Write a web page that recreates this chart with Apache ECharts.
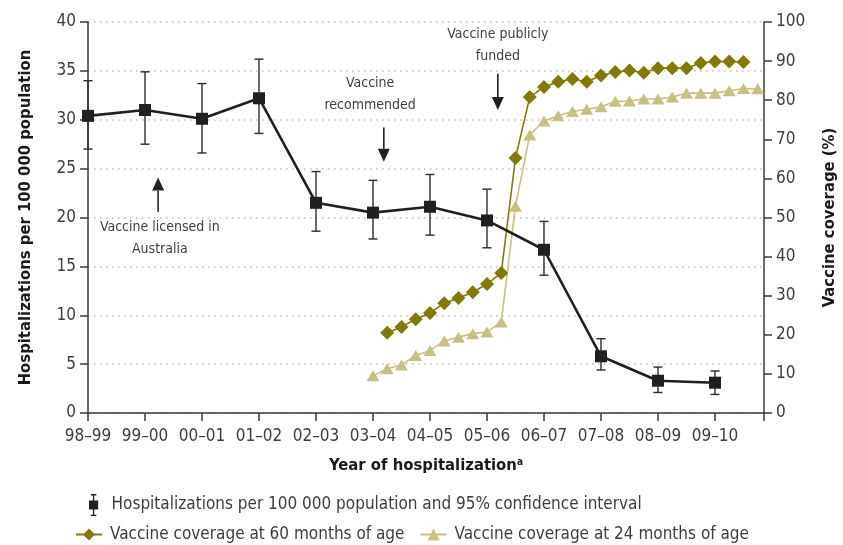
<!DOCTYPE html>
<html>
<head>
<meta charset="utf-8">
<script src="https://cdn.jsdelivr.net/npm/echarts@6/dist/echarts.min.js"></script>
<style>
  html, body { margin: 0; padding: 0; background: #fff; }
  #chart { width: 843px; height: 545px; }
</style>
</head>
<body>
<div id="chart"></div>
<script>
  // years of hospitalization (x positions 0..11)
  var years = ['98–99', '99–00', '00–01', '01–02', '02–03', '03–04', '04–05', '05–06', '06–07', '07–08', '08–09', '09–10'];
  var hospRate = [30.4, 31.0, 30.1, 32.2, 21.5, 20.5, 21.1, 19.7, 16.7, 5.8, 3.3, 3.1];
  var ciLow    = [27.0, 27.5, 26.6, 28.6, 18.6, 17.8, 18.2, 16.9, 14.1, 4.4, 2.1, 1.9];
  var ciHigh   = [34.0, 34.9, 33.7, 36.2, 24.7, 23.8, 24.4, 22.9, 19.6, 7.6, 4.7, 4.3];

  // vaccine coverage, quarterly, position in year-index units
  var cov60Time = [5.25, 5.5, 5.75, 6, 6.25, 6.5, 6.75, 7, 7.25, 7.5, 7.75, 8, 8.25, 8.5, 8.75, 9, 9.25, 9.5, 9.75, 10, 10.25, 10.5, 10.75, 11, 11.25, 11.5];
  var cov60     = [20.5, 22.0, 24.0, 25.6, 28.1, 29.4, 30.9, 33.0, 35.8, 65.2, 80.8, 83.4, 84.7, 85.4, 84.7, 86.3, 87.2, 87.6, 87.0, 88.2, 88.2, 88.2, 89.5, 89.9, 89.9, 89.8];
  var cov24Time = [5, 5.25, 5.5, 5.75, 6, 6.25, 6.5, 6.75, 7, 7.25, 7.5, 7.75, 8, 8.25, 8.5, 8.75, 9, 9.25, 9.5, 9.75, 10, 10.25, 10.5, 10.75, 11, 11.25, 11.5, 11.75];
  var cov24     = [9.5, 11.3, 12.3, 14.7, 16.0, 18.4, 19.4, 20.3, 20.7, 23.3, 52.9, 71.1, 74.7, 76.0, 77.1, 77.7, 78.3, 79.7, 79.8, 80.3, 80.3, 80.8, 81.8, 81.8, 81.8, 82.4, 83.0, 82.9];

  var hospName = 'Hospitalizations per 100 000 population and 95% confidence interval';
  var c60Name = 'Vaccine coverage at 60 months of age';
  var c24Name = 'Vaccine coverage at 24 months of age';

  // annotations: text anchor, arrow tail, arrow tip (x index, left axis value)
  var notes = [
    { text: 'Vaccine licensed in\nAustralia', at: [1.26, 20.1], tail: [1.23, 20.6], tip: [1.23, 24.1] },
    { text: 'Vaccine\nrecommended', at: [4.95, 34.8], tail: [5.19, 29.2], tip: [5.19, 25.7] },
    { text: 'Vaccine publicly\nfunded', at: [7.19, 39.9], tail: [7.19, 34.7], tip: [7.19, 31.0] }
  ];

  var FONT = "'DejaVu Sans Condensed', 'DejaVu Sans', sans-serif";
  var TXT = '#3d3d3d';
  var AXIS = '#3a3a3a';

  var chart = echarts.init(document.getElementById('chart'));

  function pairs(xs, ys) {
    return xs.map(function (x, i) { return [x, ys[i]]; });
  }

  chart.setOption({
    animation: false,
    grid: { left: 88, right: 79, top: 22, bottom: 132, outerBoundsMode: 'none' },
    legend: [
      {
        left: 84, top: 489,
        itemWidth: 10, itemHeight: 22,
        data: [{ name: hospName, icon: 'path://M2,0H8V1.5H5.75V7H10V17H5.75V22.5H8V24H2V22.5H4.25V17H0V7H4.25V1.5H2Z' }],
        textStyle: { fontFamily: FONT, fontSize: 17, color: TXT, padding: [0, 0, 0, 8] }
      },
      {
        left: 70, top: 521,
        itemWidth: 26, itemHeight: 15, itemGap: 15,
        data: [c60Name, c24Name],
        textStyle: { fontFamily: FONT, fontSize: 17, color: TXT, padding: [0, 0, 0, 3] }
      }
    ],
    xAxis: {
      type: 'value', min: 0, max: 11.86, interval: 1,
      name: '{t|Year of hospitalization}{s|a}',
      nameLocation: 'middle', nameGap: 44,
      nameTextStyle: {
        rich: {
          t: { fontFamily: FONT, fontSize: 16.5, fontWeight: 'bold', color: '#1a1a1a' },
          s: { fontFamily: FONT, fontSize: 10, fontWeight: 'bold', color: '#1a1a1a', verticalAlign: 'top' }
        }
      },
      axisLine: { lineStyle: { color: AXIS, width: 1.5 } },
      axisTick: { length: 8, lineStyle: { color: AXIS, width: 1.5 } },
      axisLabel: {
        margin: 15, fontFamily: FONT, fontSize: 17, color: TXT,
        formatter: function (v) { return Number.isInteger(v) && years[v] ? years[v] : ''; }
      },
      splitLine: { show: false }
    },
    yAxis: [
      {
        type: 'value', min: 0, max: 40, interval: 5,
        name: 'Hospitalizations per 100 000 population',
        nameLocation: 'middle', nameGap: 54, nameRotate: 90,
        nameTextStyle: { fontFamily: FONT, fontSize: 16.5, fontWeight: 'bold', color: '#1a1a1a' },
        axisLine: { show: true, lineStyle: { color: AXIS, width: 1.5 } },
        axisTick: { show: true, length: 8, lineStyle: { color: AXIS, width: 1.5 } },
        axisLabel: { margin: 12, fontFamily: FONT, fontSize: 17, color: TXT },
        splitLine: { show: true, lineStyle: { color: '#bdbdbd', width: 1.5, type: [1.5, 4.5] } }
      },
      {
        type: 'value', min: 0, max: 100, interval: 10, position: 'right',
        name: 'Vaccine coverage (%)',
        nameLocation: 'middle', nameGap: 57, nameRotate: 90,
        nameTextStyle: { fontFamily: FONT, fontSize: 16.5, fontWeight: 'bold', color: '#1a1a1a' },
        axisLine: { show: true, lineStyle: { color: AXIS, width: 1.5 } },
        axisTick: { show: true, length: 8, lineStyle: { color: AXIS, width: 1.5 } },
        axisLabel: { margin: 12, fontFamily: FONT, fontSize: 17, color: TXT },
        splitLine: { show: false }
      }
    ],
    series: [
      {
        name: c24Name, type: 'line', yAxisIndex: 1,
        data: pairs(cov24Time, cov24),
        symbol: 'triangle', symbolSize: [13, 11],
        color: '#c8bf82',
        lineStyle: { color: '#c8bf82', width: 1.6 },
        itemStyle: { color: '#c8bf82' }
      },
      {
        name: c60Name, type: 'line', yAxisIndex: 1,
        data: pairs(cov60Time, cov60),
        symbol: 'diamond', symbolSize: 14,
        color: '#817a00',
        lineStyle: { color: '#817a00', width: 1.6 },
        itemStyle: { color: '#817a00' }
      },
      {
        name: hospName, type: 'custom', yAxisIndex: 0,
        color: '#231f20',
        data: years.map(function (y, i) { return [i, ciLow[i], ciHigh[i]]; }),
        renderItem: function (params, api) {
          var x = api.value(0);
          var lo = api.coord([x, api.value(1)]);
          var hi = api.coord([x, api.value(2)]);
          var w = 4.5;
          var st = { stroke: '#2b2b2b', lineWidth: 1.4 };
          return {
            type: 'group',
            children: [
              { type: 'line', shape: { x1: lo[0], y1: lo[1], x2: hi[0], y2: hi[1] }, style: st },
              { type: 'line', shape: { x1: lo[0] - w, y1: lo[1], x2: lo[0] + w, y2: lo[1] }, style: st },
              { type: 'line', shape: { x1: hi[0] - w, y1: hi[1], x2: hi[0] + w, y2: hi[1] }, style: st }
            ]
          };
        },
        z: 3
      },
      {
        name: hospName, type: 'line', yAxisIndex: 0,
        data: pairs(years.map(function (y, i) { return i; }), hospRate),
        symbol: 'rect', symbolSize: 12,
        color: '#231f20',
        lineStyle: { color: '#231f20', width: 2.6 },
        itemStyle: { color: '#231f20' },
        z: 4
      }
    ]
  });

  // annotation texts and arrows, positioned from data coordinates
  var graphics = [];
  notes.forEach(function (n) {
    var p = chart.convertToPixel({ xAxisIndex: 0, yAxisIndex: 0 }, n.at);
    var t = chart.convertToPixel({ xAxisIndex: 0, yAxisIndex: 0 }, n.tail);
    var h = chart.convertToPixel({ xAxisIndex: 0, yAxisIndex: 0 }, n.tip);
    var dir = h[1] < t[1] ? 1 : -1; // 1 = pointing up
    var head = 13, hw = 6;
    graphics.push({
      type: 'text', x: p[0], y: p[1],
      style: { text: n.text, fontFamily: FONT, fontSize: 14, fill: TXT, align: 'center', verticalAlign: 'top', lineHeight: 22 }
    });
    graphics.push({
      type: 'line',
      shape: { x1: t[0], y1: t[1], x2: h[0], y2: h[1] + dir * head },
      style: { stroke: '#231f20', lineWidth: 1.6 }
    });
    graphics.push({
      type: 'polygon',
      shape: { points: [[h[0], h[1]], [h[0] - hw, h[1] + dir * head], [h[0] + hw, h[1] + dir * head]] },
      style: { fill: '#231f20' }
    });
  });
  chart.setOption({ graphic: graphics });
</script>
</body>
</html>
